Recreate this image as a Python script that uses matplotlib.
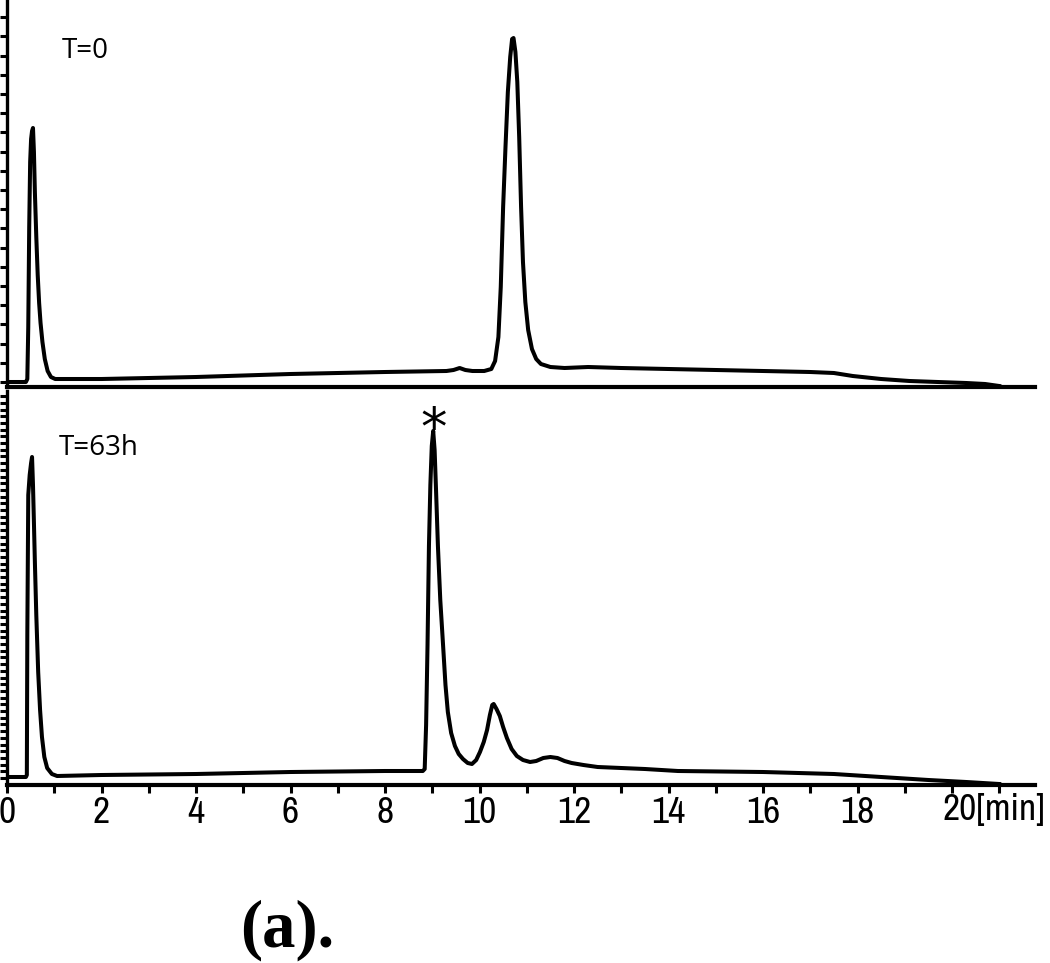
import matplotlib
matplotlib.use("Agg")
import matplotlib.pyplot as plt
from matplotlib.ticker import MultipleLocator, FixedLocator
from matplotlib import font_manager
import numpy as np

# ---- data (time in min, signal in arbitrary units) ----
t0_time = [0.00, 0.40, 0.43, 0.45, 0.47, 0.49, 0.51, 0.53, 0.55, 0.57, 0.59, 0.62,
           0.65, 0.68, 0.71, 0.75, 0.80, 0.86, 0.93, 1.02, 2.0, 4.0, 6.0, 8.0, 9.3,
           9.45, 9.58, 9.7, 9.85, 10.1, 10.25, 10.33, 10.40, 10.45, 10.50, 10.55,
           10.60, 10.65, 10.69, 10.72, 10.76, 10.80, 10.84, 10.88, 10.92, 10.97,
           11.03, 11.11, 11.20, 11.30, 11.5, 11.8, 12.3, 13.0, 14.0, 16.0, 17.0,
           17.5, 17.9, 18.5, 19.1, 19.7, 20.3, 20.7, 21.0]
t0_signal = [5, 5, 8, 60, 160, 225, 248, 256, 259, 235, 195, 150,
             112, 84, 64, 45, 28, 16, 10, 8, 8, 10, 13, 15, 16,
             17, 19, 17, 16, 16, 18, 26, 50, 100, 180, 240,
             295, 330, 348, 349, 335, 305, 250, 180, 125, 85,
             57, 38, 28, 23, 20, 19, 20, 19, 18, 16, 15,
             14, 11, 8, 6, 5, 4, 3, 1]

t63_time = [0.00, 0.40, 0.42, 0.43, 0.45, 0.48, 0.51, 0.53, 0.55, 0.57, 0.59, 0.62,
            0.66, 0.70, 0.74, 0.79, 0.85, 0.95, 1.06, 2.0, 4.0, 6.0, 8.0, 8.80,
            8.84, 8.87, 8.90, 8.93, 8.96, 8.99, 9.02, 9.05, 9.08, 9.12, 9.17, 9.23,
            9.28, 9.33, 9.40, 9.48, 9.56, 9.65, 9.75, 9.84, 9.93, 10.01, 10.09,
            10.16, 10.22, 10.27, 10.30, 10.36, 10.43, 10.50, 10.58, 10.68, 10.79,
            10.92, 11.07, 11.20, 11.35, 11.50, 11.65, 11.80, 11.95, 12.2, 12.5,
            13.5, 14.2, 16.0, 17.5, 18.5, 19.5, 20.3, 21.0]
t63_signal = [8, 8, 10, 150, 290, 310, 322, 328, 300, 262, 223, 170,
              113, 75, 48, 28, 17, 11, 9, 10, 11, 13, 14, 14,
              16, 60, 140, 239, 300, 339, 354, 335, 295, 239, 185, 139,
              100, 73, 52, 39, 31, 26, 22, 21, 25, 33, 43,
              55, 70, 80, 81, 76, 69, 58, 47, 36, 29,
              25, 23, 24, 27, 28, 27, 24, 22, 20, 18,
              16, 14, 13, 11, 8, 5, 3, 1]

x_major = [0, 2, 4, 6, 8, 10, 12, 14, 16, 18, 20]
x_labels = ["0", "2", "4", "6", "8", "10", "12", "14", "16", "18", "20"]
x_unit = "[min]"
panel_labels = ["T=0", "T=63h"]

# ---- fonts ----
names = {f.name for f in font_manager.fontManager.ttflist}
narrow = [n for n in names if ("Narrow" in n or "Condensed" in n)]
tick_font = (sorted(narrow)[:1]) + ["Liberation Sans", "DejaVu Sans"]

# ---- figure ----
fig = plt.figure(figsize=(10.5, 9.63), dpi=100)
W, H = 1050, 963
left_px, right_px = 7, 1035
xmax = (right_px - left_px) / 47.25

def frac_box(top_px, bot_px):
    return [left_px / W, 1 - bot_px / H, (right_px - left_px) / W, (bot_px - top_px) / H]

ax1 = fig.add_axes(frac_box(0, 387))
ax2 = fig.add_axes(frac_box(391, 785))

for ax in (ax1, ax2):
    ax.set_xlim(0, xmax)
    for s in ("top", "right"):
        ax.spines[s].set_visible(False)
    ax.spines["left"].set_linewidth(2.4)
    ax.spines["bottom"].set_linewidth(3.0)
    ax.tick_params(axis="y", which="both", direction="out", length=5, width=2.2,
                   labelleft=False)

ax1.plot(t0_time, t0_signal, color="black", lw=2.9, solid_joinstyle="round")
ax2.plot(t63_time, t63_signal, color="black", lw=2.9, solid_joinstyle="round")

ax1.set_ylim(0, 387)
ax1.yaxis.set_major_locator(FixedLocator(list(np.arange(5, 387, 19.2))))
ax1.tick_params(axis="x", which="both", bottom=False, labelbottom=False)

ax2.set_ylim(0, 394)
ax2.yaxis.set_major_locator(FixedLocator(list(np.arange(7, 392, 6.7))))
ax2.xaxis.set_major_locator(FixedLocator(x_major))
ax2.xaxis.set_minor_locator(MultipleLocator(1))
ax2.set_xticklabels(x_labels[:-1] + [""])
ax2.tick_params(axis="x", which="both", direction="out", length=6, width=2.2, pad=2)
for lab in ax2.get_xticklabels():
    lab.set_fontfamily(tick_font)
    lab.set_fontsize(27)

# last label carries the unit, like the reference
ax2.annotate(x_labels[-1] + x_unit, xy=(x_major[-1], 0),
             xycoords=ax2.get_xaxis_transform(),
             xytext=(-7, -6), textcoords="offset points",
             ha="left", va="top", fontsize=27, family=tick_font,
             annotation_clip=False)

ax1.text(1.15, 336, panel_labels[0], fontsize=20, family=["Open Sans", "DejaVu Sans"],
         va="center", ha="left")
ax2.text(1.1, 337, panel_labels[1], fontsize=20, family=["Open Sans", "DejaVu Sans"],
         va="center", ha="left")

ax2.annotate("*", xy=(9.02, 354), xytext=(0, -18), textcoords="offset points",
             ha="center", va="bottom", fontsize=38, family="DejaVu Sans")

fig.text(287 / W, 1 - 930 / H, "(a).", ha="center", va="center", fontsize=48,
         family=["Liberation Serif", "DejaVu Serif"], fontweight="bold")

fig.savefig("out.png", dpi=100)
